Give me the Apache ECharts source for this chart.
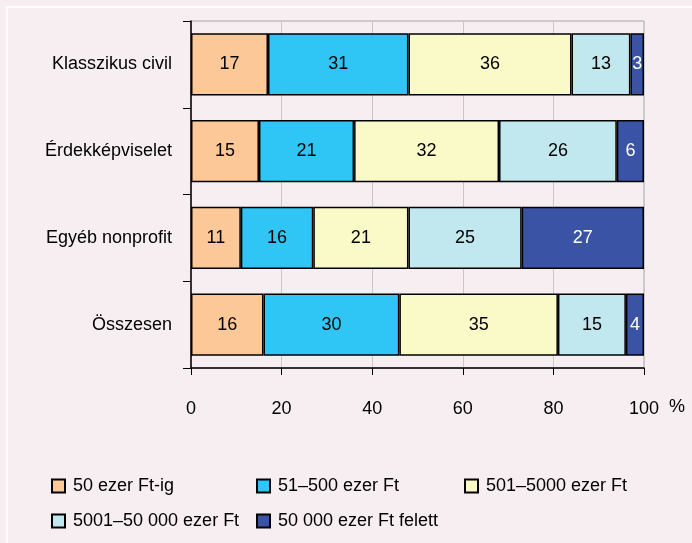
<!DOCTYPE html>
<html>
<head>
<meta charset="utf-8">
<script src="https://cdn.jsdelivr.net/npm/echarts@6/dist/echarts.min.js"></script>
<style>
html,body{margin:0;padding:0;background:#f7eef2;}
#c{width:692px;height:543px;}
</style>
</head>
<body>
<div id="c"></div>
<script>
const categories = ["Klasszikus civil", "Érdekképviselet", "Egyéb nonprofit", "Összesen"];
const seriesNames = ["50 ezer Ft-ig", "51–500 ezer Ft", "501–5000 ezer Ft", "5001–50 000 ezer Ft", "50 000 ezer Ft felett"];
const s1 = [17, 15, 11, 16];
const s2 = [31, 21, 16, 30];
const s3 = [36, 32, 21, 35];
const s4 = [13, 26, 25, 15];
const s5 = [3, 6, 27, 4];
const xTicks = [0, 20, 40, 60, 80, 100];
const colors = ["#fdc897", "#2fc5f4", "#fafac9", "#c1e7ef", "#3a53a4"];
const labelColors = ["#000", "#000", "#000", "#000", "#fff"];
const values = [s1, s2, s3, s4, s5];

const font = "'Liberation Sans', Arial, sans-serif";

const series = seriesNames.map((name, i) => ({
  name: name,
  type: 'bar',
  stack: 'total',
  barWidth: '72%',
  data: values[i],
  itemStyle: { color: colors[i], borderColor: '#000', borderWidth: 1.5 },
  label: { show: true, position: 'inside', color: labelColors[i], fontSize: 18, fontFamily: font, formatter: '{c}' },
  emphasis: { disabled: true }
}));

const legendPos = [
  { left: 51, top: 477 },
  { left: 256, top: 477 },
  { left: 464, top: 477 },
  { left: 51, top: 512 },
  { left: 256, top: 512 }
];
const legends = seriesNames.map((name, i) => ({
  data: [name],
  left: legendPos[i].left,
  top: legendPos[i].top,
  padding: 0,
  itemWidth: 13,
  itemHeight: 13,
  icon: 'rect',
  selectedMode: false,
  textStyle: { fontSize: 18, fontFamily: font, color: '#000', padding: [0, 0, 0, 3], lineHeight: 18 }
}));

const chart = echarts.init(document.getElementById('c'));
chart.setOption({
  animation: false,
  backgroundColor: '#f7eef2',
  textStyle: { fontFamily: font },
  grid: { left: 191, right: 48, top: 21, bottom: 175, show: true, borderColor: '#a6a6a6', borderWidth: 1, backgroundColor: 'transparent' },
  xAxis: {
    type: 'value', min: xTicks[0], max: xTicks[xTicks.length - 1], interval: 20,
    axisLine: { show: true, lineStyle: { color: '#000', width: 1.5 } },
    axisTick: { show: true, length: 7, lineStyle: { color: '#000', width: 1 } },
    splitLine: { show: true, lineStyle: { color: '#c8c8c8', width: 1 } },
    axisLabel: { fontSize: 18, color: '#000', margin: 32, fontFamily: font }
  },
  yAxis: {
    type: 'category', data: categories, inverse: true,
    axisLine: { show: true, lineStyle: { color: '#000', width: 1.5 } },
    axisTick: { show: true, length: 8, lineStyle: { color: '#000', width: 1 } },
    axisLabel: { fontSize: 18, color: '#000', margin: 19, fontFamily: font },
    splitLine: { show: false }
  },
  legend: legends,
  graphic: [
    { type: 'rect', shape: { x: 6, y: 6, width: 686, height: 2 }, style: { fill: '#ffffff' }, silent: true },
    { type: 'rect', shape: { x: 6, y: 6, width: 2, height: 537 }, style: { fill: '#ffffff' }, silent: true },
    { type: 'text', left: 669, top: 398, style: { text: '%', fontSize: 18, fontFamily: font, fill: '#000' } }
  ],
  series: series
});
</script>
</body>
</html>
